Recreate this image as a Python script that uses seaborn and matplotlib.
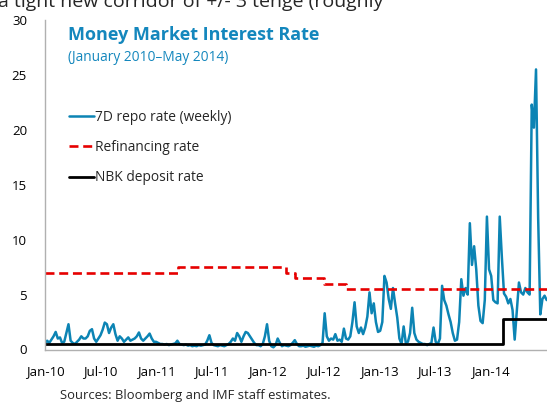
import pandas as pd
import matplotlib
matplotlib.use('Agg')
import matplotlib.pyplot as plt
import seaborn as sns

# 7D repo rate, weekly from the first week of 2010
repo_start = '2010-01-01'
repo_rate = [
    0.5, 0.8, 0.6, 0.9, 1.2, 1.6, 1.0, 1.1, 0.6, 0.7,
    1.5, 2.3, 0.8, 0.6, 0.5, 0.7, 0.9, 1.2, 1.0, 1.0,
    1.2, 1.7, 1.85, 1.0, 0.7, 1.0, 1.3, 1.8, 2.45, 2.3,
    1.5, 2.0, 2.3, 1.4, 0.8, 1.2, 1.0, 0.7, 0.9, 1.1,
    0.8, 0.9, 1.0, 1.2, 1.55, 1.0, 0.8, 1.0, 1.2, 1.45,
    1.0, 0.7, 0.7, 0.6, 0.5, 0.5, 0.45, 0.5, 0.4, 0.45,
    0.5, 0.55, 0.8, 0.5, 0.45, 0.4, 0.45, 0.35, 0.4, 0.3,
    0.35, 0.3, 0.4, 0.35, 0.4, 0.45, 0.8, 1.3, 0.6, 0.4,
    0.35, 0.3, 0.4, 0.35, 0.3, 0.4, 0.5, 0.7, 1.0, 0.8,
    1.5, 1.2, 0.7, 1.2, 1.6, 1.5, 1.2, 0.9, 0.6, 0.4,
    0.4, 0.3, 0.5, 1.2, 2.3, 0.8, 0.3, 0.2, 0.4, 1.0,
    0.6, 0.3, 0.4, 0.35, 0.3, 0.4, 0.6, 0.85, 0.5, 0.3,
    0.3, 0.35, 0.25, 0.3, 0.35, 0.3, 0.25, 0.35, 0.3, 0.4,
    0.6, 3.3, 1.2, 0.8, 1.0, 0.9, 1.4, 0.8, 0.9, 0.7,
    1.9, 1.0, 0.9, 1.2, 2.5, 4.3, 2.1, 1.5, 2.0, 1.4,
    2.0, 3.0, 5.2, 3.3, 4.2, 2.5, 1.6, 1.7, 2.5, 6.7,
    6.1, 4.6, 3.7, 5.6, 4.2, 2.9, 1.0, 0.5, 2.1, 0.6,
    0.7, 1.5, 3.8, 1.5, 0.9, 0.7, 0.6, 0.5, 0.5, 0.4,
    0.5, 0.6, 2.0, 0.7, 0.5, 1.0, 5.8, 4.5, 4.0, 3.2,
    2.5, 1.5, 0.8, 0.9, 2.5, 6.4, 4.9, 5.6, 5.0, 11.5,
    7.7, 9.4, 7.3, 4.0, 2.6, 2.4, 4.5, 12.1, 7.3, 6.7,
    4.5, 4.3, 4.2, 12.1, 8.4, 5.1, 4.8, 4.2, 4.6, 3.6,
    0.9, 3.5, 6.1, 5.2, 5.0, 5.6, 5.2, 5.0, 22.3, 20.2,
    25.5, 12.0, 3.2, 4.6, 4.9, 4.5,
]

# policy rates as step changes
refi_dates = ['2010-01-01', '2011-03-12', '2012-03-02', '2012-03-31', '2012-07-04', '2012-09-14', '2014-07-04']
refi_rate = [7.0, 7.5, 7.0, 6.5, 6.0, 5.5, 5.5]

dep_dates = ['2010-01-01', '2014-02-12', '2014-07-04']
dep_rate = [0.5, 2.75, 2.75]

tick_dates = ['2010-01-01', '2010-07-01', '2011-01-01', '2011-07-01', '2012-01-01',
              '2012-07-01', '2013-01-01', '2013-07-01', '2014-01-01']
tick_labels = ['Jan-10', 'Jul-10', 'Jan-11', 'Jul-11', 'Jan-12',
               'Jul-12', 'Jan-13', 'Jul-13', 'Jan-14']

repo = pd.DataFrame({'date': pd.date_range(repo_start, periods=len(repo_rate), freq='7D'),
                     'rate': repo_rate})
refi = pd.DataFrame({'date': pd.to_datetime(refi_dates), 'rate': refi_rate})
dep = pd.DataFrame({'date': pd.to_datetime(dep_dates), 'rate': dep_rate})

sns.set_style('white')
plt.rcParams['font.family'] = ['Open Sans', 'DejaVu Sans']

blue = '#0c84b4'
fig = plt.figure(figsize=(5.47, 4.04), dpi=100)
ax = fig.add_axes([45 / 547, 1 - 349.5 / 404, 502 / 547, 329.5 / 404])

sns.lineplot(data=repo, x='date', y='rate', ax=ax, color=blue, lw=1.8,
             label='7D repo rate (weekly)')
sns.lineplot(data=refi, x='date', y='rate', ax=ax, color='#e60000', lw=1.9,
             drawstyle='steps-post', dashes=False, linestyle=(0, (3.4, 1.8)),
             label='Refinancing rate')
sns.lineplot(data=dep, x='date', y='rate', ax=ax, color='black', lw=2.0,
             drawstyle='steps-post', label='NBK deposit rate')

ax.set_ylim(0, 30)
ax.set_yticks(range(0, 31, 5))
ax.set_xlim(pd.Timestamp('2010-01-01'), pd.Timestamp('2014-07-05'))
ax.set_xticks(pd.to_datetime(tick_dates))
ax.set_xticklabels(tick_labels)
ax.set_xlabel('')
ax.set_ylabel('')

for s in ['top', 'right']:
    ax.spines[s].set_visible(False)
for s in ['left', 'bottom']:
    ax.spines[s].set_color('#b0b0b0')
    ax.spines[s].set_linewidth(1.0)
ax.tick_params(axis='both', direction='in', length=4, color='#b0b0b0',
               labelsize=9.5, labelcolor='black')
ax.tick_params(axis='y', pad=13)
ax.tick_params(axis='x', pad=11)

ax.legend(loc='upper left', bbox_to_anchor=(0.048, 0.728), frameon=False,
          fontsize=9.9, handlelength=1.8, handletextpad=0.1, labelspacing=1.12,
          borderpad=0, borderaxespad=0)

ax.text(0.046, 0.955, 'Money Market Interest Rate', transform=ax.transAxes,
        fontsize=13, fontweight='bold', color='#1487bd', va='center')
ax.text(0.046, 0.885, '(January 2010\u2013May 2014)', transform=ax.transAxes,
        fontsize=9.9, color='#1487bd', va='center')

fig.text(60 / 547, 1 - 395 / 404, 'Sources: Bloomberg and IMF staff estimates.',
         fontsize=9.4, va='center')
fig.text(-0.003, 1 - 7 / 404, 'a tight new corridor of +/- 3 tenge (roughly',
         fontsize=14, va='baseline')

fig.savefig('out.png', dpi=100)
